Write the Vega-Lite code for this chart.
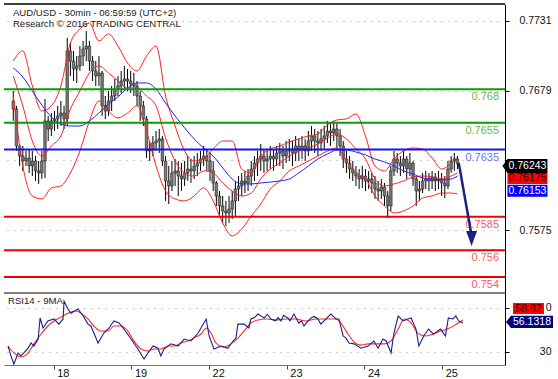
{
"$schema": "https://vega.github.io/schema/vega-lite/v6.json",
"padding": {"left": 3, "top": 3, "right": 0, "bottom": 0},
"background": "white",
"spacing": 0,
"bounds": "flush",
"config": {"view": {"stroke": null}, "font": "Liberation Sans", "axis": {"labelFont": "Liberation Sans", "zindex": 0}},
"datasets": {
"bars": [
{"h":-14,"o":0.76713,"hi":0.76787,"lo":0.76564,"c":0.76653},
{"h":-13,"o":0.76653,"hi":0.76676,"lo":0.7634,"c":0.76377},
{"h":-12,"o":0.76377,"hi":0.76392,"lo":0.76228,"c":0.76302},
{"h":-11,"o":0.76302,"hi":0.76377,"lo":0.76191,"c":0.76265},
{"h":-10,"o":0.76265,"hi":0.7634,"lo":0.76228,"c":0.76287},
{"h":-9,"o":0.76287,"hi":0.76355,"lo":0.76176,"c":0.76228},
{"h":-8,"o":0.76228,"hi":0.7634,"lo":0.76153,"c":0.76265},
{"h":-7,"o":0.76265,"hi":0.76302,"lo":0.76116,"c":0.76191},
{"h":-6,"o":0.76191,"hi":0.76265,"lo":0.76094,"c":0.76176},
{"h":-5,"o":0.76176,"hi":0.7634,"lo":0.76131,"c":0.76265},
{"h":-4,"o":0.76265,"hi":0.76728,"lo":0.76138,"c":0.76564},
{"h":-3,"o":0.76564,"hi":0.76601,"lo":0.76414,"c":0.76504},
{"h":-2,"o":0.76504,"hi":0.76623,"lo":0.76452,"c":0.76564},
{"h":-1,"o":0.76564,"hi":0.76638,"lo":0.76489,"c":0.76579},
{"h":0,"o":0.76579,"hi":0.76676,"lo":0.76504,"c":0.76601},
{"h":1,"o":0.76601,"hi":0.76713,"lo":0.76526,"c":0.76623},
{"h":2,"o":0.76623,"hi":0.76676,"lo":0.76504,"c":0.76579},
{"h":3,"o":0.76579,"hi":0.77183,"lo":0.76526,"c":0.77086},
{"h":4,"o":0.77086,"hi":0.77145,"lo":0.76899,"c":0.77011},
{"h":5,"o":0.77011,"hi":0.77086,"lo":0.76862,"c":0.76951},
{"h":6,"o":0.76951,"hi":0.77048,"lo":0.76847,"c":0.76974},
{"h":7,"o":0.76974,"hi":0.77123,"lo":0.76937,"c":0.77048},
{"h":8,"o":0.77048,"hi":0.7716,"lo":0.76974,"c":0.77101},
{"h":9,"o":0.77101,"hi":0.77235,"lo":0.77011,"c":0.77123},
{"h":10,"o":0.77123,"hi":0.7716,"lo":0.76937,"c":0.77011},
{"h":11,"o":0.77011,"hi":0.77048,"lo":0.76862,"c":0.76937},
{"h":12,"o":0.76937,"hi":0.77011,"lo":0.76825,"c":0.76899},
{"h":13,"o":0.76899,"hi":0.77048,"lo":0.76825,"c":0.76922},
{"h":14,"o":0.76922,"hi":0.76937,"lo":0.76601,"c":0.76676},
{"h":15,"o":0.76676,"hi":0.7675,"lo":0.76579,"c":0.76638},
{"h":16,"o":0.76638,"hi":0.76787,"lo":0.76601,"c":0.76713},
{"h":17,"o":0.76713,"hi":0.76825,"lo":0.76638,"c":0.7675},
{"h":18,"o":0.7675,"hi":0.76877,"lo":0.76713,"c":0.76802},
{"h":19,"o":0.76802,"hi":0.76899,"lo":0.7675,"c":0.76825},
{"h":20,"o":0.76825,"hi":0.76937,"lo":0.76773,"c":0.76862},
{"h":21,"o":0.76862,"hi":0.76974,"lo":0.76802,"c":0.76877},
{"h":22,"o":0.76877,"hi":0.76951,"lo":0.76787,"c":0.76862},
{"h":23,"o":0.76862,"hi":0.76937,"lo":0.76773,"c":0.7684},
{"h":24,"o":0.7684,"hi":0.76922,"lo":0.7675,"c":0.76825},
{"h":25,"o":0.76825,"hi":0.76862,"lo":0.76676,"c":0.7675},
{"h":26,"o":0.7675,"hi":0.76787,"lo":0.76564,"c":0.76676},
{"h":27,"o":0.76676,"hi":0.76713,"lo":0.76526,"c":0.76579},
{"h":28,"o":0.76579,"hi":0.76601,"lo":0.76287,"c":0.7634},
{"h":29,"o":0.7634,"hi":0.76414,"lo":0.76265,"c":0.76355},
{"h":30,"o":0.76355,"hi":0.76452,"lo":0.76302,"c":0.764},
{"h":31,"o":0.764,"hi":0.76489,"lo":0.7634,"c":0.76414},
{"h":32,"o":0.76414,"hi":0.76504,"lo":0.76325,"c":0.7643},
{"h":33,"o":0.7643,"hi":0.76452,"lo":0.76228,"c":0.76265},
{"h":34,"o":0.76265,"hi":0.76302,"lo":0.75967,"c":0.76116},
{"h":35,"o":0.76116,"hi":0.76228,"lo":0.75944,"c":0.76079},
{"h":36,"o":0.76079,"hi":0.76265,"lo":0.76041,"c":0.76176},
{"h":37,"o":0.76176,"hi":0.7628,"lo":0.76079,"c":0.76191},
{"h":38,"o":0.76191,"hi":0.76265,"lo":0.76004,"c":0.76153},
{"h":39,"o":0.76153,"hi":0.7625,"lo":0.76041,"c":0.76131},
{"h":40,"o":0.76131,"hi":0.76265,"lo":0.76079,"c":0.76176},
{"h":41,"o":0.76176,"hi":0.76302,"lo":0.76116,"c":0.76205},
{"h":42,"o":0.76205,"hi":0.7628,"lo":0.76101,"c":0.76191},
{"h":43,"o":0.76191,"hi":0.76302,"lo":0.76131,"c":0.76228},
{"h":44,"o":0.76228,"hi":0.76325,"lo":0.76153,"c":0.7625},
{"h":45,"o":0.7625,"hi":0.7634,"lo":0.76191,"c":0.7628},
{"h":46,"o":0.7628,"hi":0.76377,"lo":0.76228,"c":0.76302},
{"h":47,"o":0.76302,"hi":0.76355,"lo":0.76191,"c":0.76265},
{"h":48,"o":0.76265,"hi":0.76325,"lo":0.76116,"c":0.76191},
{"h":49,"o":0.76191,"hi":0.76265,"lo":0.76041,"c":0.76101},
{"h":50,"o":0.76101,"hi":0.76116,"lo":0.7593,"c":0.76004},
{"h":51,"o":0.76004,"hi":0.76041,"lo":0.75855,"c":0.7593},
{"h":52,"o":0.7593,"hi":0.76004,"lo":0.75803,"c":0.75892},
{"h":53,"o":0.75892,"hi":0.75967,"lo":0.7578,"c":0.75877},
{"h":54,"o":0.75877,"hi":0.76004,"lo":0.75803,"c":0.75907},
{"h":55,"o":0.75907,"hi":0.76041,"lo":0.75833,"c":0.75967},
{"h":56,"o":0.75967,"hi":0.76116,"lo":0.75855,"c":0.76056},
{"h":57,"o":0.76056,"hi":0.76153,"lo":0.75967,"c":0.76079},
{"h":58,"o":0.76079,"hi":0.76176,"lo":0.76004,"c":0.76116},
{"h":59,"o":0.76116,"hi":0.76191,"lo":0.76026,"c":0.76101},
{"h":60,"o":0.76101,"hi":0.76205,"lo":0.76041,"c":0.76153},
{"h":61,"o":0.76153,"hi":0.76265,"lo":0.76079,"c":0.76205},
{"h":62,"o":0.76205,"hi":0.76302,"lo":0.76116,"c":0.7625},
{"h":63,"o":0.7625,"hi":0.7634,"lo":0.76153,"c":0.7628},
{"h":64,"o":0.7628,"hi":0.76392,"lo":0.76191,"c":0.76302},
{"h":65,"o":0.76302,"hi":0.76355,"lo":0.76176,"c":0.76265},
{"h":66,"o":0.76265,"hi":0.7634,"lo":0.76191,"c":0.7628},
{"h":67,"o":0.7628,"hi":0.76377,"lo":0.76205,"c":0.76302},
{"h":68,"o":0.76302,"hi":0.76355,"lo":0.76191,"c":0.7628},
{"h":69,"o":0.7628,"hi":0.76377,"lo":0.76228,"c":0.76325},
{"h":70,"o":0.76325,"hi":0.764,"lo":0.76228,"c":0.7634},
{"h":71,"o":0.7634,"hi":0.76377,"lo":0.76205,"c":0.76302},
{"h":72,"o":0.76302,"hi":0.76414,"lo":0.7625,"c":0.7634},
{"h":73,"o":0.7634,"hi":0.7643,"lo":0.76265,"c":0.76355},
{"h":74,"o":0.76355,"hi":0.76414,"lo":0.76228,"c":0.76325},
{"h":75,"o":0.76325,"hi":0.76452,"lo":0.76265,"c":0.76377},
{"h":76,"o":0.76377,"hi":0.7643,"lo":0.76265,"c":0.76355},
{"h":77,"o":0.76355,"hi":0.76452,"lo":0.7628,"c":0.76377},
{"h":78,"o":0.76377,"hi":0.7643,"lo":0.76265,"c":0.7634},
{"h":79,"o":0.7634,"hi":0.76489,"lo":0.76302,"c":0.76414},
{"h":80,"o":0.76414,"hi":0.76526,"lo":0.7634,"c":0.76452},
{"h":81,"o":0.76452,"hi":0.76504,"lo":0.76325,"c":0.76414},
{"h":82,"o":0.76414,"hi":0.76489,"lo":0.76302,"c":0.764},
{"h":83,"o":0.764,"hi":0.76504,"lo":0.7634,"c":0.7643},
{"h":84,"o":0.7643,"hi":0.76526,"lo":0.76355,"c":0.76452},
{"h":85,"o":0.76452,"hi":0.76564,"lo":0.764,"c":0.76489},
{"h":86,"o":0.76489,"hi":0.76549,"lo":0.76377,"c":0.76474},
{"h":87,"o":0.76474,"hi":0.76564,"lo":0.76414,"c":0.76504},
{"h":88,"o":0.76504,"hi":0.76549,"lo":0.76355,"c":0.76452},
{"h":89,"o":0.76452,"hi":0.76504,"lo":0.76302,"c":0.76377},
{"h":90,"o":0.76377,"hi":0.76414,"lo":0.76213,"c":0.7628},
{"h":91,"o":0.7628,"hi":0.7634,"lo":0.76176,"c":0.7625},
{"h":92,"o":0.7625,"hi":0.76302,"lo":0.76131,"c":0.76205},
{"h":93,"o":0.76205,"hi":0.76265,"lo":0.76116,"c":0.76176},
{"h":94,"o":0.76176,"hi":0.76228,"lo":0.76079,"c":0.76153},
{"h":95,"o":0.76153,"hi":0.76205,"lo":0.76056,"c":0.76131},
{"h":96,"o":0.76131,"hi":0.76228,"lo":0.76064,"c":0.76153},
{"h":97,"o":0.76153,"hi":0.76205,"lo":0.76041,"c":0.76116},
{"h":98,"o":0.76116,"hi":0.76191,"lo":0.76056,"c":0.76131},
{"h":99,"o":0.76131,"hi":0.76176,"lo":0.76026,"c":0.76101},
{"h":100,"o":0.76101,"hi":0.76153,"lo":0.75982,"c":0.76056},
{"h":101,"o":0.76056,"hi":0.76116,"lo":0.75967,"c":0.76041},
{"h":102,"o":0.76041,"hi":0.76131,"lo":0.75982,"c":0.76071},
{"h":103,"o":0.76071,"hi":0.76101,"lo":0.7593,"c":0.76004},
{"h":104,"o":0.76004,"hi":0.76041,"lo":0.7584,"c":0.7593},
{"h":105,"o":0.7593,"hi":0.76228,"lo":0.75892,"c":0.76191},
{"h":106,"o":0.76191,"hi":0.7634,"lo":0.76153,"c":0.7628},
{"h":107,"o":0.7628,"hi":0.76325,"lo":0.76176,"c":0.7625},
{"h":108,"o":0.7625,"hi":0.76302,"lo":0.76153,"c":0.76228},
{"h":109,"o":0.76228,"hi":0.7634,"lo":0.76176,"c":0.7628},
{"h":110,"o":0.7628,"hi":0.76302,"lo":0.76131,"c":0.76205},
{"h":111,"o":0.76205,"hi":0.76325,"lo":0.76153,"c":0.7625},
{"h":112,"o":0.7625,"hi":0.76265,"lo":0.76079,"c":0.76131},
{"h":113,"o":0.76131,"hi":0.76153,"lo":0.7593,"c":0.76041},
{"h":114,"o":0.76041,"hi":0.76116,"lo":0.75967,"c":0.76056},
{"h":115,"o":0.76056,"hi":0.76176,"lo":0.76026,"c":0.76116},
{"h":116,"o":0.76116,"hi":0.76191,"lo":0.76056,"c":0.76131},
{"h":117,"o":0.76131,"hi":0.76176,"lo":0.76041,"c":0.76116},
{"h":118,"o":0.76116,"hi":0.76191,"lo":0.76056,"c":0.76146},
{"h":119,"o":0.76146,"hi":0.76176,"lo":0.76041,"c":0.76116},
{"h":120,"o":0.76116,"hi":0.76191,"lo":0.76056,"c":0.76131},
{"h":121,"o":0.76131,"hi":0.76176,"lo":0.76004,"c":0.76101},
{"h":122,"o":0.76101,"hi":0.76153,"lo":0.75989,"c":0.76079},
{"h":123,"o":0.76079,"hi":0.76265,"lo":0.76056,"c":0.76205},
{"h":124,"o":0.76205,"hi":0.76302,"lo":0.76176,"c":0.76265},
{"h":125,"o":0.76265,"hi":0.76325,"lo":0.76191,"c":0.7628},
{"h":126,"o":0.7628,"hi":0.76302,"lo":0.76205,"c":0.76243}
],
"bands": [
{"h":-14,"u":0.77011,"m":0.76899,"l":0.7675,"b":0.76959},
{"h":-11,"u":0.77086,"m":0.76676,"l":0.76228,"b":0.76892},
{"h":-8,"u":0.76825,"m":0.76414,"l":0.76004,"b":0.76787},
{"h":-5,"u":0.76638,"m":0.76302,"l":0.75982,"b":0.76683},
{"h":-2,"u":0.76676,"m":0.76377,"l":0.76064,"b":0.76594},
{"h":1,"u":0.76825,"m":0.76452,"l":0.76079,"b":0.76541},
{"h":4,"u":0.77145,"m":0.76653,"l":0.76176,"b":0.76526},
{"h":7,"u":0.7725,"m":0.76787,"l":0.7634,"b":0.76526},
{"h":10,"u":0.77294,"m":0.76922,"l":0.76564,"b":0.76564},
{"h":13,"u":0.7716,"m":0.76974,"l":0.76713,"b":0.76623},
{"h":16,"u":0.77213,"m":0.76922,"l":0.76638,"b":0.76691},
{"h":19,"u":0.77123,"m":0.76862,"l":0.76586,"b":0.76743},
{"h":22,"u":0.76996,"m":0.7681,"l":0.76623,"b":0.7681},
{"h":25,"u":0.76937,"m":0.7681,"l":0.76676,"b":0.76847},
{"h":28,"u":0.77048,"m":0.7675,"l":0.76489,"b":0.76847},
{"h":31,"u":0.77123,"m":0.76676,"l":0.76228,"b":0.76802},
{"h":34,"u":0.7675,"m":0.76437,"l":0.76041,"b":0.76698},
{"h":37,"u":0.76526,"m":0.76265,"l":0.75982,"b":0.76601},
{"h":40,"u":0.7634,"m":0.76176,"l":0.75967,"b":0.76512},
{"h":43,"u":0.76265,"m":0.76153,"l":0.76004,"b":0.7643},
{"h":46,"u":0.7628,"m":0.76191,"l":0.76064,"b":0.76362},
{"h":49,"u":0.76355,"m":0.76176,"l":0.75967,"b":0.76302},
{"h":52,"u":0.76414,"m":0.76101,"l":0.75803,"b":0.76213},
{"h":55,"u":0.76414,"m":0.76041,"l":0.75706,"b":0.76131},
{"h":58,"u":0.76205,"m":0.76004,"l":0.75758,"b":0.76094},
{"h":61,"u":0.76176,"m":0.76026,"l":0.75855,"b":0.76094},
{"h":64,"u":0.76302,"m":0.76131,"l":0.75944,"b":0.76101},
{"h":67,"u":0.76355,"m":0.76205,"l":0.76056,"b":0.76108},
{"h":70,"u":0.76377,"m":0.7625,"l":0.76116,"b":0.76116},
{"h":73,"u":0.76407,"m":0.76302,"l":0.76191,"b":0.76131},
{"h":76,"u":0.7643,"m":0.7634,"l":0.76228,"b":0.76176},
{"h":79,"u":0.76452,"m":0.76362,"l":0.76265,"b":0.76228},
{"h":82,"u":0.76467,"m":0.76392,"l":0.76302,"b":0.7628},
{"h":85,"u":0.76534,"m":0.76437,"l":0.7634,"b":0.76317},
{"h":88,"u":0.76571,"m":0.76467,"l":0.76362,"b":0.76347},
{"h":91,"u":0.76579,"m":0.7643,"l":0.76265,"b":0.76347},
{"h":94,"u":0.76616,"m":0.76355,"l":0.76176,"b":0.76332},
{"h":97,"u":0.76452,"m":0.7628,"l":0.76131,"b":0.7631},
{"h":100,"u":0.76228,"m":0.76131,"l":0.76004,"b":0.7628},
{"h":103,"u":0.76191,"m":0.76079,"l":0.7593,"b":0.76258},
{"h":106,"u":0.7628,"m":0.76094,"l":0.75877,"b":0.76228},
{"h":109,"u":0.7634,"m":0.76116,"l":0.75892,"b":0.76191},
{"h":112,"u":0.76362,"m":0.76146,"l":0.7593,"b":0.76168},
{"h":115,"u":0.76355,"m":0.76153,"l":0.75989,"b":0.76138},
{"h":118,"u":0.76287,"m":0.76146,"l":0.76004,"b":0.76131},
{"h":121,"u":0.76205,"m":0.76131,"l":0.76026,"b":0.76123},
{"h":124,"u":0.7625,"m":0.76153,"l":0.76026,"b":0.76131},
{"h":126,"u":0.76295,"m":0.76176,"l":0.76019,"b":0.76153}
],
"rsi": [
{"h":-14.1,"v":35},{"h":-13.2,"v":26},{"h":-12.3,"v":18.5},{"h":-11,"v":28.7},{"h":-10.1,"v":26},{"h":-9.2,"v":28.7},{"h":-7.9,"v":33},{"h":-7,"v":37.8},{"h":-6.1,"v":35},{"h":-4.8,"v":41.4},{"h":-4.2,"v":60.6},{"h":-3.3,"v":51.5},{"h":-1.8,"v":57.9},{"h":0.1,"v":59.7},{"h":1.6,"v":55},{"h":2.9,"v":59.7},{"h":3.2,"v":76},{"h":4.4,"v":68.8},{"h":5.3,"v":65},{"h":7.5,"v":68.8},{"h":9.1,"v":62.4},{"h":10.6,"v":55},{"h":11.5,"v":53.3},{"h":13.7,"v":37.8},{"h":15.5,"v":46.9},{"h":17.1,"v":51.5},{"h":18.6,"v":57.9},{"h":20.2,"v":56},{"h":21.7,"v":50.5},{"h":23.9,"v":41.4},{"h":26,"v":32.3},{"h":27.9,"v":23.1},{"h":29.1,"v":28.7},{"h":30.7,"v":35},{"h":32.2,"v":33},{"h":33.1,"v":26},{"h":34.1,"v":32.3},{"h":36.2,"v":37},{"h":38.4,"v":35},{"h":40.3,"v":41.4},{"h":42.4,"v":39.6},{"h":44.6,"v":46.9},{"h":45.5,"v":51.5},{"h":47.1,"v":59.7},{"h":48,"v":44.2},{"h":49.5,"v":32.3},{"h":51.7,"v":35},{"h":53.8,"v":33},{"h":55.4,"v":39.6},{"h":56.3,"v":42.3},{"h":56.9,"v":55},{"h":58.8,"v":55},{"h":60.3,"v":51.5},{"h":60.9,"v":59.7},{"h":62,"v":61},{"h":63.1,"v":64.2},{"h":64,"v":62.5},{"h":65,"v":60.6},{"h":66,"v":64},{"h":67.1,"v":59.7},{"h":68.5,"v":58},{"h":69.3,"v":61},{"h":70.2,"v":57.9},{"h":71,"v":63},{"h":72.3,"v":60.6},{"h":73,"v":58},{"h":74.2,"v":64.2},{"h":75.7,"v":56},{"h":76.5,"v":58},{"h":77.3,"v":53.3},{"h":78.3,"v":57},{"h":79.5,"v":60.6},{"h":80.5,"v":62},{"h":81.6,"v":59.7},{"h":82.5,"v":55},{"h":83.5,"v":57.9},{"h":84.5,"v":61},{"h":85.6,"v":64.2},{"h":86.4,"v":62},{"h":87.2,"v":59.7},{"h":88.1,"v":59.7},{"h":89.4,"v":44.2},{"h":90.3,"v":42.3},{"h":91.2,"v":37.8},{"h":92.8,"v":37},{"h":94.9,"v":33},{"h":97.1,"v":35},{"h":98.9,"v":39.6},{"h":100.2,"v":33},{"h":101.7,"v":41.4},{"h":102.7,"v":39.6},{"h":104.2,"v":28.7},{"h":105.1,"v":46.9},{"h":106.4,"v":62.4},{"h":107.9,"v":57.9},{"h":109.4,"v":59.7},{"h":110.4,"v":60.6},{"h":111.9,"v":50.5},{"h":112.8,"v":35},{"h":114.3,"v":44.2},{"h":115.8,"v":50.5},{"h":117.3,"v":45.9},{"h":119.5,"v":50.5},{"h":121,"v":44.2},{"h":121.9,"v":60.6},{"h":123.3,"v":59.7},{"h":124.2,"v":62.4},{"h":125.1,"v":57.9},{"h":126.4,"v":56.1}
],
"rsima": [
{"h":-14.1,"v":35},{"h":-12.3,"v":28.7},{"h":-10.1,"v":25},{"h":-7.9,"v":28.7},{"h":-6.1,"v":37},{"h":-3.9,"v":46},{"h":-1.8,"v":53.3},{"h":0.1,"v":57.9},{"h":2.3,"v":61.5},{"h":4.4,"v":65},{"h":6.9,"v":67},{"h":8.4,"v":65},{"h":10.6,"v":59.7},{"h":12.4,"v":53.3},{"h":14.6,"v":48.7},{"h":16.8,"v":48.7},{"h":18.6,"v":53.3},{"h":20.8,"v":53.3},{"h":22.9,"v":48.7},{"h":24.8,"v":39.6},{"h":27,"v":32.3},{"h":29.1,"v":30.5},{"h":31,"v":32.3},{"h":33.1,"v":32.3},{"h":35.3,"v":35},{"h":37.2,"v":35},{"h":39.3,"v":37.8},{"h":41.4,"v":39.6},{"h":43.3,"v":42.3},{"h":45.5,"v":46},{"h":47.1,"v":51.5},{"h":48.6,"v":46.9},{"h":50.1,"v":37.8},{"h":52.3,"v":34.1},{"h":54.8,"v":37},{"h":56.9,"v":42.3},{"h":58.8,"v":48.7},{"h":60.9,"v":56},{"h":63.1,"v":58.8},{"h":65.6,"v":59.7},{"h":68.7,"v":58.8},{"h":71.8,"v":59.7},{"h":74.8,"v":59.7},{"h":77.9,"v":57.9},{"h":81,"v":59.7},{"h":84.1,"v":59.7},{"h":87.2,"v":59.7},{"h":88.7,"v":56},{"h":90.9,"v":46},{"h":92.8,"v":38.6},{"h":94.9,"v":35.8},{"h":97.1,"v":37},{"h":99.5,"v":37},{"h":102,"v":37},{"h":104.2,"v":39.6},{"h":106.4,"v":50.5},{"h":108.3,"v":59.7},{"h":110.4,"v":56},{"h":112.8,"v":46},{"h":115,"v":44.2},{"h":117.3,"v":46},{"h":119.5,"v":48.7},{"h":121.6,"v":50.5},{"h":124.2,"v":54.6},{"h":126.4,"v":58.8}
],
"levels": [
{"level":0.768,"label":"0.768","kind":"r"},
{"level":0.7655,"label":"0.7655","kind":"r"},
{"level":0.7635,"label":"0.7635","kind":"p"},
{"level":0.7585,"label":"0.7585","kind":"s"},
{"level":0.756,"label":"0.756","kind":"s"},
{"level":0.754,"label":"0.754","kind":"s"}
],
"arrow": [{"h":126.4,"p":0.7625},{"h":130.3,"p":0.75728}],
"arrowhead": [{"h":130.44,"p":0.75687}],
"ptags": [{"k":"last","v":0.76243,"t":"0.76243"},{"k":"mid","v":0.76175,"t":"0.76175"},{"k":"ma","v":0.76153,"t":"0.76153"}],
"rtags": [{"k":"ma","v":58.82,"t":"58.82"},{"k":"rsi","v":56.1318,"t":"56.1318"}]
},
"vconcat": [
{
"width": 501, "height": 289,
"resolve": {"scale": {"color": "independent"}},
"layer": [
{"data": {"name": "bars"}, "mark": {"type": "rule", "color": "#000", "strokeWidth": 1},
 "encoding": {
  "x": {"field": "h", "type": "quantitative", "scale": {"domain": [-15.35, 139.4], "nice": false, "zero": false}, "axis": null},
  "y": {"field": "lo", "type": "quantitative", "scale": {"domain": [0.752803, 0.774362], "nice": false, "zero": false},
   "axis": {"orient": "right", "values": [0.7575, 0.7627, 0.7679, 0.7731], "labelExpr": "datum.value > 0.7626 && datum.value < 0.7628 ? '' : format(datum.value, '.4f')", "title": null, "grid": true, "gridColor": "#999", "gridDash": [1, 6], "domainColor": "#000", "tickColor": "#000", "tickSize": 4, "labelAlign": "right", "labelPadding": 42, "labelFontSize": 10.5, "labelColor": "#111", "zindex": 0}},
  "y2": {"field": "hi"}}},
{"data": {"name": "bars"}, "mark": {"type": "bar", "width": 2.6, "color": "#777", "stroke": "#111", "strokeWidth": 0.5},
 "encoding": {
  "x": {"field": "h", "type": "quantitative", "scale": {"domain": [-15.35, 139.4], "nice": false, "zero": false}, "axis": null},
  "y": {"field": "o", "type": "quantitative", "scale": {"domain": [0.752803, 0.774362], "nice": false, "zero": false}},
  "y2": {"field": "c"}}},
{"data": {"name": "bands"}, "mark": {"type": "line", "color": "#ff2020", "strokeWidth": 1, "interpolate": "monotone"},
 "encoding": {
  "x": {"field": "h", "type": "quantitative", "scale": {"domain": [-15.35, 139.4], "nice": false, "zero": false}, "axis": null},
  "y": {"field": "u", "type": "quantitative", "scale": {"domain": [0.752803, 0.774362], "nice": false, "zero": false}}}},
{"data": {"name": "bands"}, "mark": {"type": "line", "color": "#ff2020", "strokeWidth": 1, "interpolate": "monotone"},
 "encoding": {
  "x": {"field": "h", "type": "quantitative", "scale": {"domain": [-15.35, 139.4], "nice": false, "zero": false}, "axis": null},
  "y": {"field": "m", "type": "quantitative", "scale": {"domain": [0.752803, 0.774362], "nice": false, "zero": false}}}},
{"data": {"name": "bands"}, "mark": {"type": "line", "color": "#ff2020", "strokeWidth": 1, "interpolate": "monotone"},
 "encoding": {
  "x": {"field": "h", "type": "quantitative", "scale": {"domain": [-15.35, 139.4], "nice": false, "zero": false}, "axis": null},
  "y": {"field": "l", "type": "quantitative", "scale": {"domain": [0.752803, 0.774362], "nice": false, "zero": false}}}},
{"data": {"name": "bands"}, "mark": {"type": "line", "color": "#2222ff", "strokeWidth": 1, "interpolate": "monotone"},
 "encoding": {
  "x": {"field": "h", "type": "quantitative", "scale": {"domain": [-15.35, 139.4], "nice": false, "zero": false}, "axis": null},
  "y": {"field": "b", "type": "quantitative", "scale": {"domain": [0.752803, 0.774362], "nice": false, "zero": false}}}},
{"data": {"name": "levels"}, "mark": {"type": "rule", "strokeWidth": 2},
 "encoding": {
  "y": {"field": "level", "type": "quantitative", "scale": {"domain": [0.752803, 0.774362], "nice": false, "zero": false}},
  "color": {"field": "kind", "type": "nominal", "scale": {"domain": ["r", "p", "s"], "range": ["#0c990c", "#1414f0", "#f00000"]}, "legend": null}}},
{"data": {"name": "levels"}, "mark": {"type": "text", "align": "right", "baseline": "top", "dy": 2, "fontSize": 11},
 "encoding": {
  "x": {"datum": 139.1, "type": "quantitative", "scale": {"domain": [-15.35, 139.4], "nice": false, "zero": false}, "axis": null},
  "y": {"field": "level", "type": "quantitative", "scale": {"domain": [0.752803, 0.774362], "nice": false, "zero": false}},
  "text": {"field": "label"},
  "color": {"field": "kind", "type": "nominal", "scale": {"domain": ["r", "p", "s"], "range": ["#6cb83c", "#7070ff", "#ff5a5a"]}, "legend": null}}},
{"data": {"values": [{}]}, "mark": {"type": "rule", "color": "#000", "strokeWidth": 1.5},
 "encoding": {"y": {"datum": 0.774362, "type": "quantitative", "scale": {"domain": [0.752803, 0.774362], "nice": false, "zero": false}}}},
{"data": {"values": [{}]}, "mark": {"type": "text", "align": "left", "baseline": "top", "fontSize": 9.6, "color": "#222", "lineHeight": 11.5},
 "encoding": {
  "x": {"datum": -14.12, "type": "quantitative", "scale": {"domain": [-15.35, 139.4], "nice": false, "zero": false}, "axis": null},
  "y": {"datum": 0.77408, "type": "quantitative", "scale": {"domain": [0.752803, 0.774362], "nice": false, "zero": false}},
  "text": {"value": ["AUD/USD - 30min - 06:59:59 (UTC+2)", "Research © 2016 TRADING CENTRAL"]}}},
{"data": {"name": "arrow"}, "mark": {"type": "line", "color": "#1a237e", "strokeWidth": 2.5},
 "encoding": {
  "x": {"field": "h", "type": "quantitative", "scale": {"domain": [-15.35, 139.4], "nice": false, "zero": false}, "axis": null},
  "y": {"field": "p", "type": "quantitative", "scale": {"domain": [0.752803, 0.774362], "nice": false, "zero": false}}}},
{"data": {"name": "arrowhead"}, "mark": {"type": "point", "shape": "M-0.73,-1L0.73,-1L0,1Z", "size": 225, "filled": true, "color": "#1a237e", "opacity": 1, "strokeWidth": 0},
 "encoding": {
  "x": {"field": "h", "type": "quantitative", "scale": {"domain": [-15.35, 139.4], "nice": false, "zero": false}, "axis": null},
  "y": {"field": "p", "type": "quantitative", "scale": {"domain": [0.752803, 0.774362], "nice": false, "zero": false}}}},
{"data": {"name": "ptags"}, "transform": [{"filter": "datum.k == 'last'"}],
 "mark": {"type": "point", "shape": "M-1.25,0L-1,-0.35L1,-0.35L1,0.35L-1,0.35Z", "size": 1600, "filled": true, "color": "#000", "opacity": 1, "strokeWidth": 0, "yOffset": 2},
 "encoding": {
  "x": {"datum": 148.05, "type": "quantitative", "scale": {"domain": [-15.35, 139.4], "nice": false, "zero": false}, "axis": null},
  "y": {"field": "v", "type": "quantitative", "scale": {"domain": [0.752803, 0.774362], "nice": false, "zero": false}}}},
{"data": {"name": "ptags"}, "transform": [{"filter": "datum.k == 'last'"}],
 "mark": {"type": "text", "color": "#fff", "fontSize": 10.5, "yOffset": 2, "align": "center", "baseline": "middle"},
 "encoding": {
  "x": {"datum": 148.05, "type": "quantitative", "scale": {"domain": [-15.35, 139.4], "nice": false, "zero": false}, "axis": null},
  "y": {"field": "v", "type": "quantitative", "scale": {"domain": [0.752803, 0.774362], "nice": false, "zero": false}},
  "text": {"field": "t"}}},
{"data": {"name": "ptags"}, "transform": [{"filter": "datum.k == 'mid'"}],
 "mark": {"type": "point", "shape": "M-1,-0.275L1,-0.275L1,0.275L-1,0.275Z", "size": 1600, "filled": true, "color": "#ff0000", "opacity": 1, "strokeWidth": 0, "yOffset": 5.4},
 "encoding": {
  "x": {"datum": 148.05, "type": "quantitative", "scale": {"domain": [-15.35, 139.4], "nice": false, "zero": false}, "axis": null},
  "y": {"field": "v", "type": "quantitative", "scale": {"domain": [0.752803, 0.774362], "nice": false, "zero": false}}}},
{"data": {"name": "ptags"}, "transform": [{"filter": "datum.k == 'mid'"}],
 "mark": {"type": "text", "color": "#200", "fontSize": 10.5, "yOffset": 5.4, "align": "center", "baseline": "middle"},
 "encoding": {
  "x": {"datum": 148.05, "type": "quantitative", "scale": {"domain": [-15.35, 139.4], "nice": false, "zero": false}, "axis": null},
  "y": {"field": "v", "type": "quantitative", "scale": {"domain": [0.752803, 0.774362], "nice": false, "zero": false}},
  "text": {"field": "t"}}},
{"data": {"name": "ptags"}, "transform": [{"filter": "datum.k == 'ma'"}],
 "mark": {"type": "point", "shape": "M-1,-0.3L1,-0.3L1,0.3L-1,0.3Z", "size": 1600, "filled": true, "color": "#0000ff", "opacity": 1, "strokeWidth": 0, "yOffset": 14.8},
 "encoding": {
  "x": {"datum": 148.05, "type": "quantitative", "scale": {"domain": [-15.35, 139.4], "nice": false, "zero": false}, "axis": null},
  "y": {"field": "v", "type": "quantitative", "scale": {"domain": [0.752803, 0.774362], "nice": false, "zero": false}}}},
{"data": {"name": "ptags"}, "transform": [{"filter": "datum.k == 'ma'"}],
 "mark": {"type": "text", "color": "#fff", "fontSize": 10.5, "yOffset": 14.8, "align": "center", "baseline": "middle"},
 "encoding": {
  "x": {"datum": 148.05, "type": "quantitative", "scale": {"domain": [-15.35, 139.4], "nice": false, "zero": false}, "axis": null},
  "y": {"field": "v", "type": "quantitative", "scale": {"domain": [0.752803, 0.774362], "nice": false, "zero": false}},
  "text": {"field": "t"}}}
]
},
{
"width": 501, "height": 72,
"layer": [
{"data": {"name": "rsima"}, "mark": {"type": "line", "color": "#ff2a2a", "strokeWidth": 1.1, "interpolate": "monotone"},
 "encoding": {
  "x": {"field": "h", "type": "quantitative", "scale": {"domain": [-15.35, 139.4], "nice": false, "zero": false},
   "axis": {"values": [0, 24, 48, 72, 96, 120], "labelExpr": "datum.value == 0 ? '18' : datum.value == 24 ? '19' : datum.value == 48 ? '22' : datum.value == 72 ? '23' : datum.value == 96 ? '24' : '25'", "title": null, "grid": false, "domainColor": "#777", "tickColor": "#444", "tickSize": 4, "labelAlign": "left", "labelBaseline": "top", "labelPadding": -2, "labelOffset": 3, "labelFontSize": 11, "labelColor": "#111", "zindex": 0}},
  "y": {"field": "v", "type": "quantitative", "scale": {"domain": [17.7, 83.4], "nice": false, "zero": false},
   "axis": {"orient": "right", "values": [30, 50, 70], "labelExpr": "datum.value == 70 ? '0' : datum.label", "title": null, "grid": true, "gridColor": "#999", "gridDash": [1, 6], "domainColor": "#000", "tickColor": "#000", "tickSize": 4, "labelAlign": "right", "labelPadding": 42, "labelFontSize": 10.5, "labelColor": "#111", "zindex": 0}}}},
{"data": {"values": [{}]}, "mark": {"type": "rule", "color": "#808080", "strokeWidth": 2},
 "encoding": {"y": {"datum": 83.4, "type": "quantitative", "scale": {"domain": [17.7, 83.4], "nice": false, "zero": false}}}},
{"data": {"values": [{}]}, "mark": {"type": "text", "align": "left", "baseline": "top", "fontSize": 9.6, "color": "#222"},
 "encoding": {
  "x": {"datum": -14.12, "type": "quantitative", "scale": {"domain": [-15.35, 139.4], "nice": false, "zero": false}},
  "y": {"datum": 80.5, "type": "quantitative", "scale": {"domain": [17.7, 83.4], "nice": false, "zero": false}},
  "text": {"value": "RSI14 - 9MA"}}},
{"data": {"name": "rsi"}, "mark": {"type": "line", "color": "#1c1c8c", "strokeWidth": 1.1},
 "encoding": {
  "x": {"field": "h", "type": "quantitative", "scale": {"domain": [-15.35, 139.4], "nice": false, "zero": false}},
  "y": {"field": "v", "type": "quantitative", "scale": {"domain": [17.7, 83.4], "nice": false, "zero": false}}}},
{"data": {"name": "rtags"}, "transform": [{"filter": "datum.k == 'ma'"}],
 "mark": {"type": "point", "shape": "M-1,-0.355L1,-0.355L1,0.355L-1,0.355Z", "size": 961, "filled": true, "color": "#ff0000", "opacity": 1, "strokeWidth": 0, "yOffset": -11.4},
 "encoding": {
  "x": {"datum": 146.66, "type": "quantitative", "scale": {"domain": [-15.35, 139.4], "nice": false, "zero": false}},
  "y": {"field": "v", "type": "quantitative", "scale": {"domain": [17.7, 83.4], "nice": false, "zero": false}}}},
{"data": {"name": "rtags"}, "transform": [{"filter": "datum.k == 'ma'"}],
 "mark": {"type": "text", "color": "#300", "fontSize": 10.5, "yOffset": -11.4, "align": "center", "baseline": "middle"},
 "encoding": {
  "x": {"datum": 146.66, "type": "quantitative", "scale": {"domain": [-15.35, 139.4], "nice": false, "zero": false}},
  "y": {"field": "v", "type": "quantitative", "scale": {"domain": [17.7, 83.4], "nice": false, "zero": false}},
  "text": {"field": "t"}}},
{"data": {"name": "rtags"}, "transform": [{"filter": "datum.k == 'rsi'"}],
 "mark": {"type": "point", "shape": "M-1.24,0L-1,-0.29L1,-0.29L1,0.29L-1,0.29Z", "size": 1764, "filled": true, "color": "#000080", "opacity": 1, "strokeWidth": 0, "yOffset": -1},
 "encoding": {
  "x": {"datum": 147.74, "type": "quantitative", "scale": {"domain": [-15.35, 139.4], "nice": false, "zero": false}},
  "y": {"field": "v", "type": "quantitative", "scale": {"domain": [17.7, 83.4], "nice": false, "zero": false}}}},
{"data": {"name": "rtags"}, "transform": [{"filter": "datum.k == 'rsi'"}],
 "mark": {"type": "text", "color": "#fff", "fontSize": 10.5, "yOffset": -1, "align": "center", "baseline": "middle"},
 "encoding": {
  "x": {"datum": 147.74, "type": "quantitative", "scale": {"domain": [-15.35, 139.4], "nice": false, "zero": false}},
  "y": {"field": "v", "type": "quantitative", "scale": {"domain": [17.7, 83.4], "nice": false, "zero": false}},
  "text": {"field": "t"}}}
]
}
]
}
